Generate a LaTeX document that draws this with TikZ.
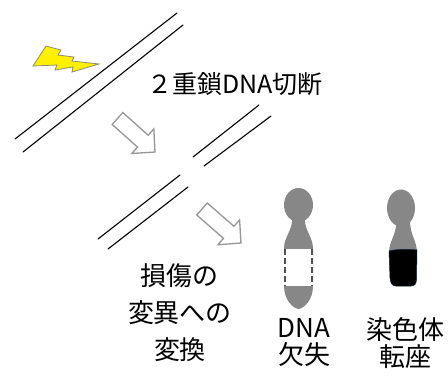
\documentclass[tikz,border=0pt]{standalone}
\usepackage{fontspec}
\newfontfamily\jpfont{Noto Sans CJK JP}
\definecolor{boltyellow}{RGB}{255,240,0}
\definecolor{boltedge}{RGB}{140,140,110}
\definecolor{arrowgray}{RGB}{150,150,150}
\definecolor{chromgray}{RGB}{135,135,135}
\definecolor{dashgray}{RGB}{80,80,80}
\definecolor{blackedge}{RGB}{20,30,70}
\begin{document}
\begin{tikzpicture}[x=1pt,y=-1pt,
  strand/.style={line width=1.1pt, line cap=round},
  hollowarrow/.style={draw=arrowgray, fill=white, line width=1.3pt, line join=miter},
  txt/.style={inner sep=0pt, align=center},
]
\useasboundingbox (0,0) rectangle (448,376);

% DNA double strand, intact
\draw[strand] (15,139) -- (177,13);
\draw[strand] (23,152) -- (183,25);

% lightning bolt
\draw[boltedge, fill=boltyellow, line width=0.8pt, line join=miter]
  (33,66) -- (46,46) -- (61,50) -- (58,55) -- (74,57) -- (72,61) -- (99,64)
  -- (72,72) -- (73,67) -- (55,70) -- (57,65) -- cycle;

% broken double strand
\draw[strand] (193,157) -- (259,105);
\draw[strand] (204,166) -- (271,116);
\draw[strand] (98,239) -- (180,175);
\draw[strand] (108,249) -- (188,187);

% hollow block arrows
\begin{scope}[shift={(117.5,118.5)}, rotate=-41.8]
  \draw[hollowarrow] (0,-8) -- (34,-8) -- (34,-16.5) -- (50.3,0) -- (34,16.5) -- (34,8) -- (0,8) -- cycle;
\end{scope}
\begin{scope}[shift={(202,209)}, rotate=-41.1]
  \draw[hollowarrow] (0,-8) -- (35.5,-8) -- (35.5,-16.5) -- (51.7,0) -- (35.5,16.5) -- (35.5,8) -- (0,8) -- cycle;
\end{scope}

% labels
\node[txt, font=\jpfont\fontsize{25}{25}\selectfont] (cut) at (235,84) {２重鎖DNA切断};
\node[txt, font=\jpfont\fontsize{26}{37}\selectfont] (conv) at (180,313) {損傷の\\変異への\\変換};
\node[txt, font=\jpfont\fontsize{26}{27}\selectfont] (del) at (304,343) {DNA\\欠失};
\node[txt, font=\jpfont\fontsize{26}{27}\selectfont] (trans) at (405,343) {染色体\\転座};

% chromosome with deletion
\fill[chromgray] (298.5,205) ellipse [x radius=14.5, y radius=17];
\fill[chromgray] (292.5,216) .. controls (292.5,232) and (284,236) .. (284,249)
  -- (284,286) .. controls (284,299) and (292,308) .. (298.5,309)
  .. controls (305,308) and (313,299) .. (313,286)
  -- (313,249) .. controls (313,236) and (304.5,232) .. (304.5,216) -- cycle;
\fill[white] (284,249) rectangle (313,286);
\draw[dashgray, line width=1.6pt, dash pattern=on 6pt off 3pt] (285,249) -- (285,286);
\draw[dashgray, line width=1.6pt, dash pattern=on 6pt off 3pt] (312,249) -- (312,286);

% chromosome with translocation
\fill[chromgray] (401,208) ellipse [x radius=14, y radius=18.5];
\fill[chromgray] (396.5,220) .. controls (396.5,236) and (389,240) .. (389,253)
  -- (417,253) .. controls (417,240) and (410,236) .. (410,220) -- cycle;
\draw[blackedge, fill=black, line width=0.5pt]
  (389,251) .. controls (396,249) and (410,249) .. (417,250)
  -- (416.5,279) .. controls (416.5,284) and (414.5,286) .. (411,286)
  -- (396,286) .. controls (392,286) and (390.5,283) .. (390,278) -- cycle;
\end{tikzpicture}
\end{document}
